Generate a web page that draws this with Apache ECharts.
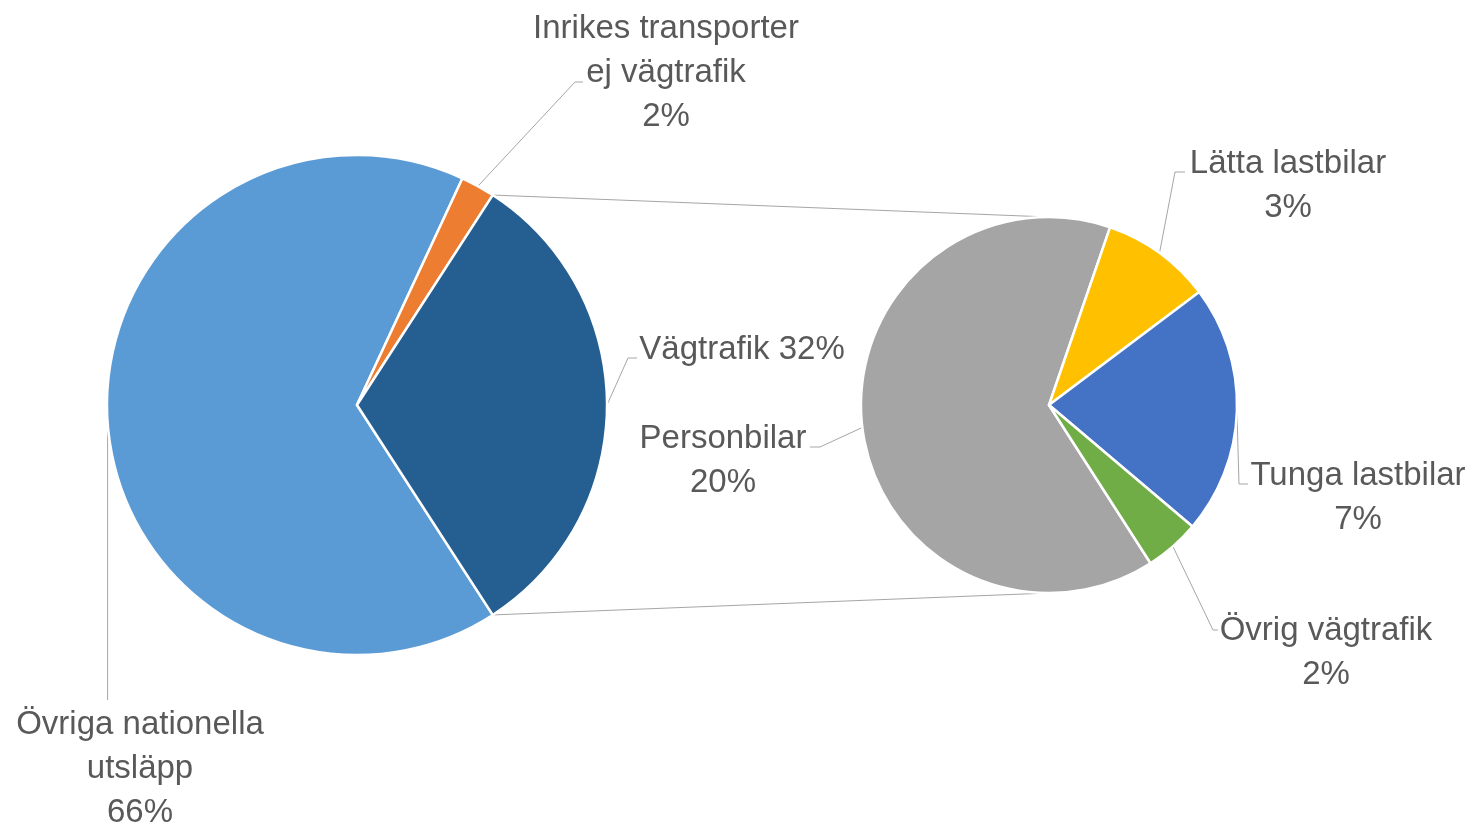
<!DOCTYPE html>
<html>
<head>
<meta charset="utf-8">
<script src="https://cdn.jsdelivr.net/npm/echarts@6/dist/echarts.min.js"></script>
<style>
html,body{margin:0;padding:0;background:#fff;}
#chart{width:1472px;height:826px;}
</style>
</head>
<body>
<div id="chart"></div>
<script>
// Main pie (share of national emissions, %)
const mainNames = ['Övriga nationella\nutsläpp', 'Inrikes transporter\nej vägtrafik', 'Vägtrafik'];
const mainSep = ['\n', '\n', ' '];
const mainValues = [66, 2.2, 31.7];
const mainColors = ['#5B9BD5', '#ED7D31', '#255E91'];

// Secondary pie (road traffic breakdown, % of national total)
const subNames = ['Personbilar', 'Lätta lastbilar', 'Tunga lastbilar', 'Övrig vägtrafik'];
const subValues = [20.4, 3.0, 6.8, 1.5];
const subColors = ['#A5A5A5', '#FFC000', '#4472C4', '#70AD47'];

// geometry
const C1 = [357, 405], R1 = 250;
const C2 = [1049, 405], R2 = 188;
const textColor = '#595959';
const lineColor = '#A6A6A6';

const mainTotal = mainValues.reduce((a, b) => a + b, 0);
const vagFrac = mainValues[2] / mainTotal;
const mainStart = -vagFrac * 180;   // centres the road-traffic slice at 3 o'clock
const subStart = -57.3;

// label placements: [centerX, centerY, bendX, bendY, endX, endY]
const mainLabelPos = [
  [140, 769, null, 700, null, 700],
  [666, 73, 575, 82, 583, 82],
  [742, 350, 628, 358, 637, 358]
];
const subLabelPos = [
  [723, 461, 820, 447, 810, 447],
  [1288, 186, 1175, 172, 1185, 172],
  [1358, 498, 1239, 484, 1248, 484],
  [1326, 653, 1213, 630, 1218, 630]
];

function edgePoint(c, r, values, start, idx) {
  const tot = values.reduce((a, b) => a + b, 0);
  let acc = 0;
  for (let i = 0; i < idx; i++) acc += values[i];
  const midFrac = (acc + values[idx] / 2) / tot;
  const a = (90 - start) + midFrac * 360;
  const rad = a * Math.PI / 180;
  return [c[0] + r * Math.sin(rad), c[1] - r * Math.cos(rad)];
}

function layoutFor(pos, c, r, values, start, idx) {
  const p = pos[idx];
  const s = edgePoint(c, r, values, start, idx);
  const bx = p[2] == null ? s[0] : p[2];
  const ex = p[4] == null ? s[0] : p[4];
  return {
    x: p[0], y: p[1], align: 'center', verticalAlign: 'middle',
    labelLinePoints: [s, [bx, p[3]], [ex, p[5]]]
  };
}

const labelStyle = {
  show: true,
  color: textColor,
  fontFamily: 'Liberation Sans, Arial, sans-serif',
  fontSize: 33,
  lineHeight: 44,
  align: 'center'
};

const chart = echarts.init(document.getElementById('chart'), null, {renderer: 'canvas'});

// connector lines between the road-traffic slice and the secondary pie
const a1 = (90 - vagFrac * 180) * Math.PI / 180;
const a2 = (90 + vagFrac * 180) * Math.PI / 180;
const p1 = [C1[0] + R1 * Math.sin(a1), C1[1] - R1 * Math.cos(a1)];
const p2 = [C1[0] + R1 * Math.sin(a2), C1[1] - R1 * Math.cos(a2)];

chart.setOption({
  animation: false,
  backgroundColor: '#ffffff',
  graphic: [
    {type: 'line', shape: {x1: p1[0], y1: p1[1], x2: C2[0], y2: C2[1] - R2}, style: {stroke: lineColor, lineWidth: 1}, z: 0},
    {type: 'line', shape: {x1: p2[0], y1: p2[1], x2: C2[0], y2: C2[1] + R2}, style: {stroke: lineColor, lineWidth: 1}, z: 0}
  ],
  series: [
    {
      type: 'pie',
      center: C1,
      radius: R1,
      startAngle: mainStart,
      clockwise: true,
      avoidLabelOverlap: false,
      itemStyle: {borderColor: '#fff', borderWidth: 2.5},
      label: Object.assign({}, labelStyle, {
        formatter: p => p.name + mainSep[p.dataIndex] + Math.round(p.value) + '%'
      }),
      labelLine: {show: true, lineStyle: {color: lineColor, width: 1}},
      labelLayout: params => layoutFor(mainLabelPos, C1, R1, mainValues, mainStart, params.dataIndex),
      emphasis: {disabled: true},
      data: mainValues.map((v, i) => ({name: mainNames[i], value: v, itemStyle: {color: mainColors[i]}}))
    },
    {
      type: 'pie',
      center: C2,
      radius: R2,
      startAngle: subStart,
      clockwise: true,
      avoidLabelOverlap: false,
      itemStyle: {borderColor: '#fff', borderWidth: 2.5},
      label: Object.assign({}, labelStyle, {
        formatter: p => p.name + '\n' + Math.round(p.value) + '%'
      }),
      labelLine: {show: true, lineStyle: {color: lineColor, width: 1}},
      labelLayout: params => layoutFor(subLabelPos, C2, R2, subValues, subStart, params.dataIndex),
      emphasis: {disabled: true},
      data: subValues.map((v, i) => ({name: subNames[i], value: v, itemStyle: {color: subColors[i]}}))
    }
  ]
});
</script>
</body>
</html>
